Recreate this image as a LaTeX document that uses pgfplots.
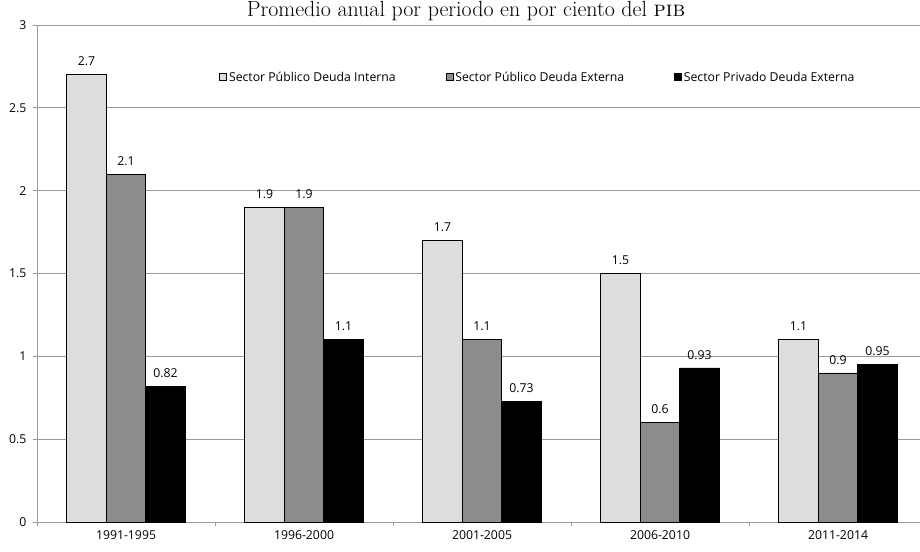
\documentclass[border=0pt]{standalone}
\usepackage{fontspec}
\usepackage{pgfplots}
\pgfplotsset{compat=1.18}
\newfontfamily\lab{Open Sans}
\definecolor{lgray}{HTML}{DDDDDD}
\definecolor{mgray}{HTML}{8C8C8C}
\definecolor{axgray}{HTML}{9A9A9A}
\begin{document}
\begin{tikzpicture}
\path[use as bounding box] (0,0) rectangle (920bp,552bp);
\begin{axis}[
  at={(37bp,30bp)}, anchor=south west,
  scale only axis, width=883bp, height=497bp,
  xmin=-0.5, xmax=4.4607, ymin=0, ymax=3,
  ybar=0pt, bar width=39.5bp,
  axis x line*=bottom, axis y line*=left,
  axis line style={draw=axgray, line width=0.8bp},
  xtick={0,1,2,3,4},
  xticklabels={\mbox{\lab 1991-1995},\mbox{\lab 1996-2000},\mbox{\lab 2001-2005},\mbox{\lab 2006-2010},\mbox{\lab 2011-2014}},
  minor xtick={-0.5,0.5,1.5,2.5,3.5},
  major x tick style={draw=none},
  minor x tick style={draw=axgray, line width=0.8bp},
  ytick={0,0.5,1,1.5,2,2.5,3},
  yticklabels={\mbox{\lab 0},\mbox{\lab 0.5},\mbox{\lab 1},\mbox{\lab 1.5},\mbox{\lab 2},\mbox{\lab 2.5},\mbox{\lab 3}},
  y tick style={draw=axgray, line width=0.8bp},
  tick align=outside, major tick length=4bp, minor tick length=4bp,
  ymajorgrids, grid style={draw=axgray, line width=0.8bp},
  tick label style={font=\lab\fontsize{12.3}{14}\selectfont, text=black},
  /pgf/number format/assume math mode=true,
  xticklabel style={yshift=-1bp},
  yticklabel style={xshift=-3bp},
  nodes near coords,
  nodes near coords style={font=\lab\fontsize{12.3}{14}\selectfont, text=black, yshift=5bp},
  point meta=explicit symbolic,
  legend columns=3,
  legend style={draw=none, fill=none, at={(0.203,0.895)}, anchor=west,
    font=\lab\fontsize{12.3}{14}\selectfont, /tikz/every even column/.append style={column sep=48bp}},
  legend image code/.code={\draw[#1, line width=0.6bp] (0bp,-3.5bp) rectangle (7bp,3.5bp);},
  clip=false,
]
\addplot[fill=lgray, draw=black, line width=0.6bp] coordinates {(0,2.7)[2.7] (1,1.9)[1.9] (2,1.7)[1.7] (3,1.5)[1.5] (4,1.1)[1.1]};
\addplot[fill=mgray, draw=black, line width=0.6bp] coordinates {(0,2.1)[2.1] (1,1.9)[1.9] (2,1.1)[1.1] (3,0.6)[0.6] (4,0.9)[0.9]};
\addplot[fill=black, draw=black, line width=0.6bp] coordinates {(0,0.82)[0.82] (1,1.1)[1.1] (2,0.73)[0.73] (3,0.93)[0.93] (4,0.95)[0.95]};
\legend{Sector Público Deuda Interna,Sector Público Deuda Externa,Sector Privado Deuda Externa}
\end{axis}
\node[anchor=base, font=\fontsize{22}{25}\selectfont] at (466bp,535bp) {Promedio anual por periodo en por ciento del \textsc{pib}};
\end{tikzpicture}
\end{document}
